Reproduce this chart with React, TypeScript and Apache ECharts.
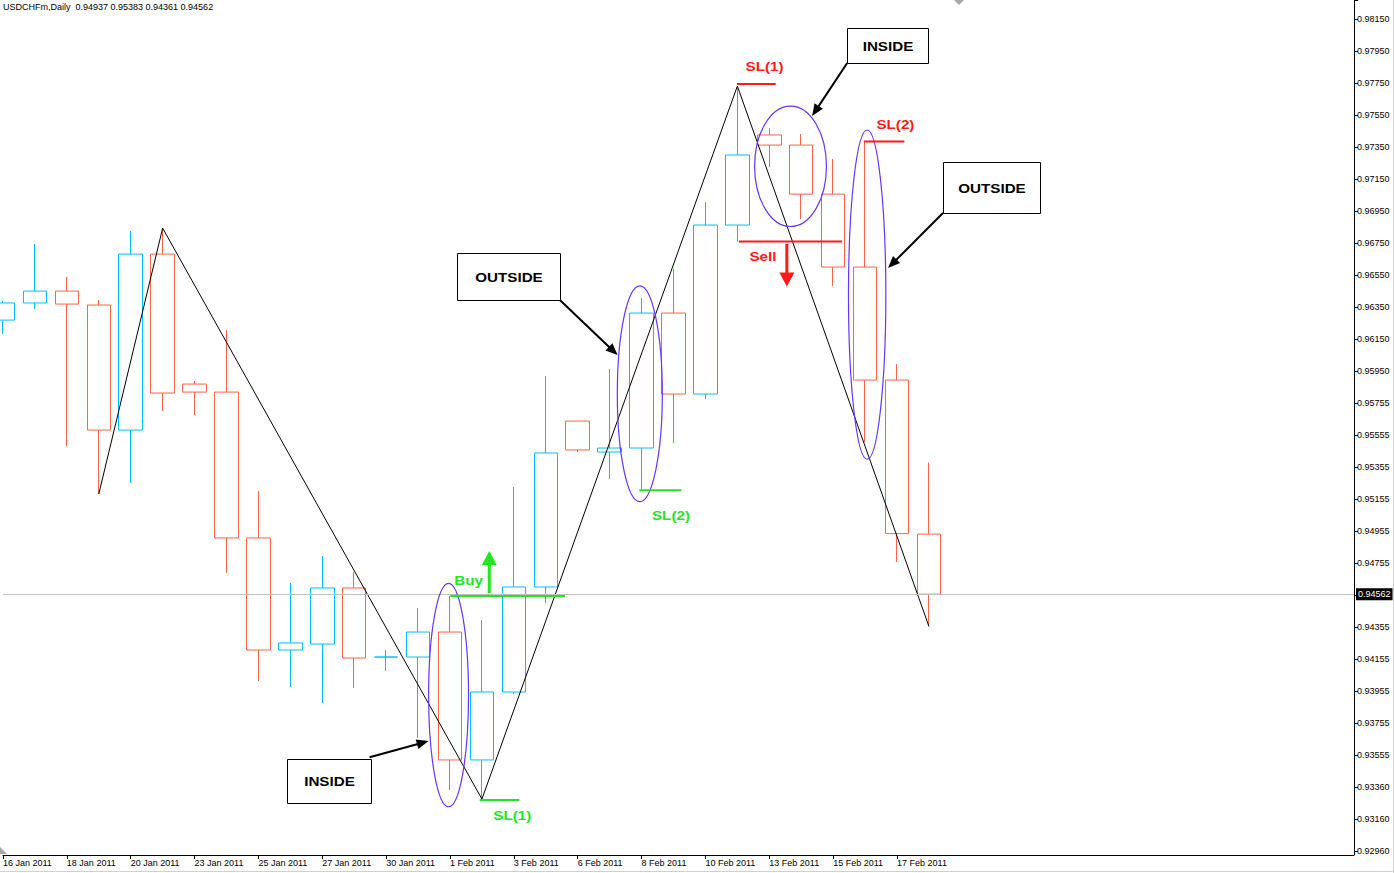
import React, { useEffect, useRef } from 'react';
import * as echarts from 'echarts';

const headerText = 'USDCHFm,Daily  0.94937 0.95383 0.94361 0.94562';

// one entry per daily bar (this broker prints Sunday bars, no Saturday)
const dates = [
  '16 Jan 2011', '17 Jan 2011', '18 Jan 2011', '19 Jan 2011', '20 Jan 2011', '21 Jan 2011',
  '23 Jan 2011', '24 Jan 2011', '25 Jan 2011', '26 Jan 2011', '27 Jan 2011', '28 Jan 2011',
  '30 Jan 2011', '31 Jan 2011', '1 Feb 2011', '2 Feb 2011', '3 Feb 2011', '4 Feb 2011',
  '6 Feb 2011', '7 Feb 2011', '8 Feb 2011', '9 Feb 2011', '10 Feb 2011', '11 Feb 2011',
  '13 Feb 2011', '14 Feb 2011', '15 Feb 2011', '16 Feb 2011', '17 Feb 2011', '18 Feb 2011',
];
const opens = [
  0.96272, 0.96379, 0.96453, 0.96366, 0.95586, 0.96684, 0.95873, 0.95823, 0.94913, 0.94214,
  0.94251, 0.94601, 0.94170, 0.94170, 0.94326, 0.93528, 0.93952, 0.94607, 0.95642, 0.95449,
  0.95474, 0.96316, 0.95811, 0.96865, 0.97427, 0.97364, 0.97058, 0.96603, 0.95898, 0.94937,
];
const closes = [
  0.96379, 0.96453, 0.96372, 0.95586, 0.96684, 0.95817, 0.95823, 0.94913, 0.94214, 0.94258,
  0.94601, 0.94164, 0.94170, 0.94326, 0.93528, 0.93952, 0.94607, 0.95443, 0.95462, 0.95474,
  0.96316, 0.95811, 0.96865, 0.97302, 0.97364, 0.97058, 0.96603, 0.95898, 0.94940, 0.94562,
];
const lows = [
  0.96185, 0.96341, 0.95486, 0.95187, 0.95256, 0.95705, 0.95680, 0.94694, 0.94021, 0.93983,
  0.93883, 0.93977, 0.94083, 0.93665, 0.93341, 0.93284, 0.93939, 0.94507, 0.95449, 0.95281,
  0.95212, 0.95505, 0.95780, 0.96759, 0.97227, 0.96903, 0.96485, 0.95511, 0.94763, 0.94361,
];
const highs = [
  0.96392, 0.96747, 0.96541, 0.96397, 0.96828, 0.96846, 0.95892, 0.96210, 0.95206, 0.94632,
  0.94800, 0.94700, 0.94214, 0.94476, 0.94551, 0.94401, 0.95231, 0.95923, 0.95642, 0.95967,
  0.96410, 0.96591, 0.97009, 0.97732, 0.97470, 0.97433, 0.97277, 0.97389, 0.95998, 0.95383,
];

// price scale labels as the terminal prints them (bottom to top)
const priceTicks = [
  '0.92960', '0.93160', '0.93360', '0.93555', '0.93755', '0.93955', '0.94155', '0.94355',
  '0.94555', '0.94755', '0.94955', '0.95155', '0.95355', '0.95555', '0.95755', '0.95950',
  '0.96150', '0.96350', '0.96550', '0.96750', '0.96950', '0.97150', '0.97350', '0.97550',
  '0.97750', '0.97950', '0.98150',
];
const priceMin = 0.9296;
const priceMax = 0.98269;
const tickStep = 0.0019962;
const lastPrice = 0.94562;
const barsVisible = 42.3125;

// zigzag turning points: bar index + which extreme
const swings: [number, 'low' | 'high'][] = [[3, 'low'], [5, 'high'], [15, 'low'], [23, 'high'], [29, 'low']];

const BULL = '#00bfff';
const BEAR = '#ff6347';
const VIOLET = '#6633ff';
const GREEN = '#22e622';
const RED = '#ff1a1a';
const FONT = '"Liberation Sans", Arial, sans-serif';

// annotations, anchored in bar index / price
const zones = [ // left, right, top price, bottom price
  [13.33, 14.58, 0.94630, 0.93236],
  [19.24, 20.65, 0.96486, 0.95139],
  [23.54, 25.79, 0.97607, 0.96856],
  [26.48, 27.65, 0.97458, 0.95404],
];
const levels: [number, number, number, string][] = [
  [14.01, 17.6, 0.94551, GREEN],
  [14.93, 16.17, 0.93278, GREEN],
  [19.93, 21.25, 0.9521, GREEN],
  [22.99, 24.2, 0.97745, RED],
  [23.05, 26.28, 0.96763, RED],
  [26.96, 28.23, 0.97387, RED],
];
const tags: [string, number, number, string][] = [
  ['Buy', 14.58, 0.94651, GREEN],
  ['SL(1)', 15.95, 0.93185, GREEN],
  ['SL(2)', 20.92, 0.95052, GREEN],
  ['SL(1)', 23.85, 0.97857, RED],
  ['Sell', 23.8, 0.96672, RED],
  ['SL(2)', 27.95, 0.97495, RED],
];
const pushes: [number, number, number, string][] = [
  [15.23, 0.94569, 0.94831, GREEN],
  [24.55, 0.96747, 0.96482, RED],
];
const boxes: [string, number, number, number, number][] = [
  ['INSIDE', 10.2, 0.93395, 84, 44],
  ['OUTSIDE', 15.83, 0.96541, 103, 47],
  ['INSIDE', 27.7, 0.97985, 81, 35],
  ['OUTSIDE', 30.95, 0.97099, 97, 51],
];
const pointers = [ // from idx, from price, to idx, to price
  [11.48, 0.93545, 13.33, 0.93646],
  [17.44, 0.96397, 19.25, 0.96054],
  [26.44, 0.97876, 25.34, 0.97545],
  [29.44, 0.9694, 27.72, 0.96597],
];

const arrow = (s: number[], t: number[], color: string, width: number, headLen: number, half: number) => {
  const dx = t[0] - s[0];
  const dy = t[1] - s[1];
  const len = Math.hypot(dx, dy);
  const ux = dx / len;
  const uy = dy / len;
  const bx = t[0] - ux * headLen;
  const by = t[1] - uy * headLen;
  return [
    {
      type: 'line',
      silent: true,
      shape: { x1: s[0], y1: s[1], x2: bx + ux, y2: by + uy },
      style: { stroke: color, lineWidth: width },
    },
    {
      type: 'polygon',
      silent: true,
      shape: { points: [[t[0], t[1]], [bx - uy * half, by + ux * half], [bx + uy * half, by - ux * half]] },
      style: { fill: color },
    },
  ];
};

const App: React.FC = () => {
  const chartRef = useRef<HTMLDivElement>(null);

  useEffect(() => {
    const chart = echarts.init(chartRef.current, null, { renderer: 'svg' });
    const evenBars = dates.map((_, i) => i).filter((i) => i % 2 === 0);

    chart.setOption({
      animation: false,
      backgroundColor: '#ffffff',
      textStyle: { fontFamily: FONT },
      title: {
        text: headerText,
        left: 3,
        top: 2,
        padding: 0,
        textStyle: { fontSize: 9, fontWeight: 'normal', color: '#000', fontFamily: FONT },
      },
      grid: { left: 0, right: 40, top: 0, bottom: 22 },
      xAxis: {
        type: 'value',
        min: 0,
        max: barsVisible,
        interval: 2,
        offset: 4,
        axisLine: { onZero: false, lineStyle: { color: '#000', width: 1 } },
        axisTick: { length: 4, lineStyle: { color: '#000' }, customValues: evenBars },
        axisLabel: {
          customValues: evenBars,
          align: 'left',
          margin: 3,
          fontSize: 9,
          color: '#000',
          formatter: (v: number) => {
            const i = Math.round(v);
            if (Math.abs(v - i) > 1e-6 || i % 2) return '';
            return dates[i] ?? '';
          },
        },
        splitLine: { show: false },
      },
      yAxis: {
        type: 'value',
        position: 'right',
        min: priceMin,
        max: priceMax,
        interval: tickStep,
        axisLine: { show: true, onZero: false, lineStyle: { color: '#000', width: 1 } },
        axisTick: { show: true, length: 4, lineStyle: { color: '#000' } },
        axisLabel: {
          margin: 3,
          fontSize: 9,
          color: '#000',
          formatter: (v: number) => {
            const k = Math.round((v - priceMin) / tickStep);
            if (Math.abs(v - (priceMin + k * tickStep)) > tickStep / 10) return '';
            if (Math.abs(v - lastPrice) < tickStep / 2) return ''; // hidden under the price tag
            return priceTicks[k] ?? '';
          },
        },
        splitLine: { show: false },
      },
      series: [
        {
          type: 'candlestick',
          barWidth: 24,
          data: dates.map((_, i) => [i, opens[i], closes[i], lows[i], highs[i]]),
          itemStyle: {
            color: 'rgba(0,0,0,0)',
            color0: 'rgba(0,0,0,0)',
            borderColor: BULL,
            borderColor0: BEAR,
            borderColorDoji: BULL,
            borderWidth: 1,
          },
          markLine: {
            silent: true,
            symbol: 'none',
            precision: 5,
            data: [{ yAxis: lastPrice }],
            lineStyle: { color: '#c0c0c0', width: 1, type: 'solid' },
            label: {
              position: 'end',
              distance: 2,
              formatter: lastPrice.toFixed(5),
              color: '#fff',
              backgroundColor: '#000',
              fontSize: 9,
              padding: [2, 2, 1, 2],
            },
          },
        },
        {
          type: 'line',
          symbol: 'none',
          silent: true,
          data: swings.map(([i, side]) => [i, side === 'low' ? lows[i] : highs[i]]),
          lineStyle: { color: '#000', width: 1 },
          z: 3,
        },
      ],
    });

    const px = (x: number, p: number) =>
      chart.convertToPixel({ xAxisIndex: 0, yAxisIndex: 0 }, [x, p]) as number[];

    const graphic: any[] = [];
    const boldText = (text: string, x: number, y: number, fill: string) => ({
      type: 'text',
      silent: true,
      x,
      y,
      scaleX: 1.17,
      z: 20,
      style: { text, fill, font: `bold 13px ${FONT}`, align: 'center', verticalAlign: 'middle' },
    });

    zones.forEach(([x0, x1, pt, pb]) => {
      const a = px(x0, pt);
      const b = px(x1, pb);
      graphic.push({
        type: 'ellipse',
        silent: true,
        z: 10,
        shape: { cx: (a[0] + b[0]) / 2, cy: (a[1] + b[1]) / 2, rx: (b[0] - a[0]) / 2, ry: (b[1] - a[1]) / 2 },
        style: { fill: 'none', stroke: VIOLET, lineWidth: 1.2 },
      });
    });
    levels.forEach(([x0, x1, p, color]) => {
      const a = px(x0, p);
      const b = px(x1, p);
      graphic.push({
        type: 'line',
        silent: true,
        z: 11,
        shape: { x1: a[0], y1: a[1], x2: b[0], y2: b[1] },
        style: { stroke: color, lineWidth: 2 },
      });
    });
    tags.forEach(([text, x, p, color]) => {
      const a = px(x, p);
      graphic.push(boldText(text, a[0], a[1], color));
    });
    pushes.forEach(([x, p0, p1, color]) => {
      graphic.push(...arrow(px(x, p0), px(x, p1), color, 3, 14, 7.5));
    });
    boxes.forEach(([text, x, p, w, h]) => {
      const c = px(x, p);
      const left = Math.round(c[0] - w / 2) + 0.5;
      const top = Math.round(c[1] - h / 2) + 0.5;
      graphic.push({
        type: 'rect',
        silent: true,
        z: 12,
        shape: { x: left, y: top, width: w, height: h },
        style: { fill: '#fff', stroke: '#000', lineWidth: 1 },
      });
      graphic.push(boldText(text, left + w / 2, top + h / 2, '#000'));
    });
    pointers.forEach(([x0, p0, x1, p1]) => {
      graphic.push(...arrow(px(x0, p0), px(x1, p1), '#000', 2, 12, 5));
    });

    // terminal chrome: shift markers, frame edges, axis corner
    graphic.push(
      { type: 'polygon', silent: true, shape: { points: [[954, 0], [964, 0], [959, 5]] }, style: { fill: '#a8a8a8' } },
      { type: 'polygon', silent: true, shape: { points: [[0, 847], [7, 854], [0, 854]] }, style: { fill: '#a8a8a8' } },
      { type: 'line', silent: true, shape: { x1: 1354.5, y1: 850, x2: 1354.5, y2: 855 }, style: { stroke: '#000', lineWidth: 1 } },
      { type: 'line', silent: true, shape: { x1: 0, y1: 871.5, x2: 1394, y2: 871.5 }, style: { stroke: '#d0d0d0', lineWidth: 1 } },
      { type: 'line', silent: true, shape: { x1: 1393.5, y1: 0, x2: 1393.5, y2: 873 }, style: { stroke: '#d0d0d0', lineWidth: 1 } },
    );

    chart.setOption({ graphic });

    return () => {
      chart.dispose();
    };
  }, []);

  return (
    <div style={{ position: 'fixed', left: 0, top: 0, width: 1394, height: 873, background: '#fff' }}>
      <div ref={chartRef} style={{ width: '100%', height: '100%' }} />
    </div>
  );
};

export default App;
